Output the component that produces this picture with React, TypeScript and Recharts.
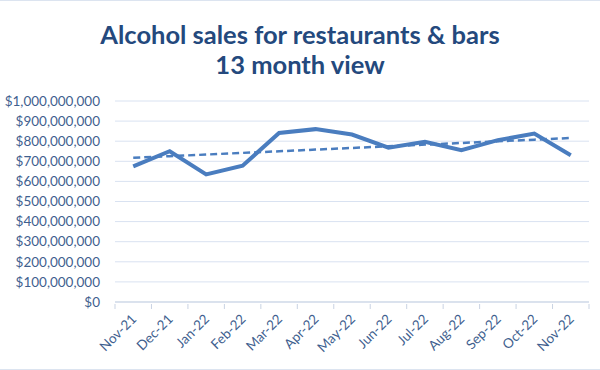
import { LineChart, Line, XAxis, YAxis, CartesianGrid } from "recharts";

const months = [
  "Nov-21", "Dec-21", "Jan-22", "Feb-22", "Mar-22", "Apr-22", "May-22",
  "Jun-22", "Jul-22", "Aug-22", "Sep-22", "Oct-22", "Nov-22",
];

const sales = [
  675000000, 750000000, 635000000, 678000000, 841000000, 860000000, 833000000,
  768000000, 797000000, 755000000, 805000000, 838000000, 730000000,
];

const yTicks = [
  0, 100000000, 200000000, 300000000, 400000000, 500000000,
  600000000, 700000000, 800000000, 900000000, 1000000000,
];

const TITLE = "#24497D";
const TEXT = "#3F5F8F";
const LINE = "#4A7DBF";
const GRID = "#D9E2F1";

// linear trend (least squares) of the sales series
function trend(values: number[]) {
  const n = values.length;
  const mx = (n - 1) / 2;
  const my = values.reduce((a, b) => a + b, 0) / n;
  let sxy = 0;
  let sxx = 0;
  values.forEach((v, i) => {
    sxy += (i - mx) * (v - my);
    sxx += (i - mx) * (i - mx);
  });
  const slope = sxy / sxx;
  return values.map((_v, i) => my + slope * (i - mx));
}

const trendValues = trend(sales);
const data = months.map((m, i) => ({ month: m, sales: sales[i], trend: trendValues[i] }));

const fmt = (v: number) => "$" + v.toLocaleString("en-US");

const BAND = 474 / months.length;

const MonthTick = (props: any) => {
  const { x, y, payload, index, visibleTicksCount } = props;
  const ty = y - 6;
  return (
    <g>
      <line x1={x - BAND / 2} x2={x - BAND / 2} y1={ty} y2={ty + 5} stroke="#C9D3E3" />
      {index === visibleTicksCount - 1 && (
        <line x1={x + BAND / 2} x2={x + BAND / 2} y1={ty} y2={ty + 5} stroke="#C9D3E3" />
      )}
      <text
        x={x + 4}
        y={ty + 16}
        textAnchor="end"
        fill={TEXT}
        fontSize={13.5}
        transform={`rotate(-45, ${x + 4}, ${ty + 16})`}
      >
        {payload.value}
      </text>
    </g>
  );
};

export default function App() {
  return (
    <div
      style={{
        position: "absolute",
        left: 0,
        top: 0,
        width: 600,
        height: 370,
        fontFamily: "Lato, 'Open Sans', sans-serif",
        background: "#fff",
        borderTop: "1px solid #DCE4F0",
        borderBottom: "1px solid #DCE4F0",
        boxSizing: "border-box",
      }}
    >
      <div
        style={{
          position: "absolute",
          top: 18,
          left: 0,
          width: 600,
          textAlign: "center",
          color: TITLE,
          fontWeight: 700,
          fontSize: 25.5,
          lineHeight: "30px",
        }}
      >
        Alcohol sales for restaurants &amp; bars
        <br />
        13 month view
      </div>
      <LineChart
        width={600}
        height={368}
        data={data}
        margin={{ top: 100, right: 11, bottom: 0, left: 0 }}
      >
        <CartesianGrid vertical={false} stroke={GRID} />
        <XAxis
          dataKey="month"
          height={67}
          axisLine={{ stroke: "#C9D3E3" }}
          tickLine={false}
          interval={0}
          padding={{ left: BAND / 2, right: BAND / 2 }}
          tick={<MonthTick />}
        />
        <YAxis
          width={115}
          domain={[0, 1000000000]}
          ticks={yTicks}
          interval={0}
          tickFormatter={fmt}
          axisLine={false}
          tickLine={false}
          tickSize={0}
          tickMargin={15}
          tick={{ fill: TEXT, fontSize: 13.5 }}
        />
        <Line
          dataKey="sales"
          stroke={LINE}
          strokeWidth={4}
          dot={false}
          isAnimationActive={false}
        />
        <Line
          dataKey="trend"
          stroke={LINE}
          strokeWidth={2.5}
          strokeDasharray="7 4"
          dot={false}
          isAnimationActive={false}
        />
      </LineChart>
    </div>
  );
}
